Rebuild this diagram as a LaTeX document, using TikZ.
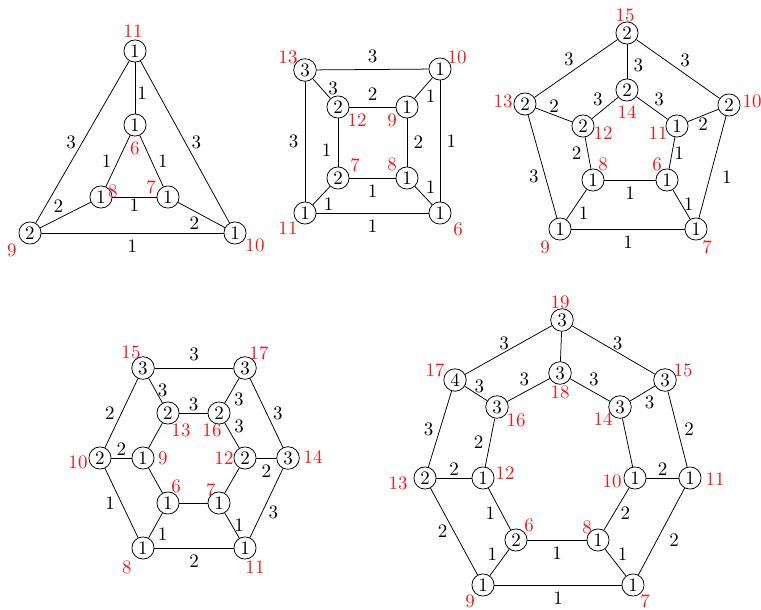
\documentclass[tikz,border=0pt]{standalone}
\usepackage{tikz}
\definecolor{TagRed}{RGB}{245,25,25}
\tikzset{
  vtx/.style={circle,draw,inner sep=1.2pt},
  tag/.style={text=TagRed,inner sep=0pt},
  snug/.style={inner sep=1pt},
}
% vertex with its red number set at an offset from it
\newcommand{\vertexat}[5]{%
  \node[vtx] (#1) at (#2) {#3};
  \node[tag] (#1t) at ([shift={(#4)}]#1) {#5};}
\newcommand{\wlink}[4]{%
  \draw (#1) -- node[#3]{#4} (#2);}

\begin{document}
\begin{tikzpicture}[x=0.526pt,y=-0.526pt]
  \useasboundingbox (0,0) rectangle (761,610);
  % triangle
  \vertexat{a11}{135,51}{1}{-2,-20}{11}
  \vertexat{a6}{135,125}{1}{0,23}{6}
  \vertexat{a8}{101,197}{1}{12,-6}{8}
  \vertexat{a7}{168,197}{1}{-17,-10}{7}
  \vertexat{a9}{30,233}{2}{-18,17}{9}
  \vertexat{a10}{235,233}{1}{20,12}{10}
  \wlink{a11}{a6}{right,snug,pos=0.6}{1}
  \wlink{a11}{a9}{left}{3}
  \wlink{a11}{a10}{right}{3}
  \wlink{a6}{a8}{left}{1}
  \wlink{a6}{a7}{right}{1}
  \wlink{a8}{a7}{below,snug}{1}
  \wlink{a9}{a8}{above left,snug}{2}
  \wlink{a7}{a10}{below left,snug}{2}
  \wlink{a9}{a10}{below}{1}
  % cube
  \vertexat{b13}{305,70}{3}{-17,-13}{13}
  \vertexat{b10}{440,69}{1}{17,-12}{10}
  \vertexat{b12}{338,107}{2}{19,13}{12}
  \vertexat{b9}{407,107}{1}{-15,13}{9}
  \vertexat{b7}{338,178}{2}{17,-13}{7}
  \vertexat{b8}{407,178}{1}{-15,-14}{8}
  \vertexat{b11}{305,213}{1}{-17,15}{11}
  \vertexat{b6}{440,213}{1}{18,16}{6}
  \wlink{b13}{b10}{above}{3}
  \wlink{b13}{b12}{right}{3}
  \wlink{b12}{b9}{above}{2}
  \wlink{b10}{b9}{below right,snug}{1}
  \wlink{b13}{b11}{left}{3}
  \wlink{b12}{b7}{left,pos=0.65}{1}
  \wlink{b9}{b8}{right}{2}
  \wlink{b10}{b6}{right}{1}
  \wlink{b7}{b8}{below}{1}
  \wlink{b7}{b11}{below right,snug}{1}
  \wlink{b8}{b6}{above right,snug}{1}
  \wlink{b11}{b6}{below}{1}
  % pentagonal prism
  \vertexat{c15}{627,33}{2}{-2,-18}{15}
  \vertexat{c13}{525,104}{2}{-22,-3}{13}
  \vertexat{c10}{729,105}{2}{23,-4}{10}
  \vertexat{c14}{627,90}{2}{0,22}{14}
  \vertexat{c12}{583,126}{2}{20,7}{12}
  \vertexat{c11}{677,126}{1}{-19,7}{11}
  \vertexat{c8}{593,180}{1}{10,-16}{8}
  \vertexat{c6}{667,180}{1}{-10,-16}{6}
  \vertexat{c9}{560,229}{1}{-15,18}{9}
  \vertexat{c7}{696,229}{1}{11,18}{7}
  \wlink{c15}{c13}{above left,snug}{3}
  \wlink{c15}{c10}{above right,snug}{3}
  \wlink{c15}{c14}{right,pos=0.6}{3}
  \wlink{c14}{c12}{above left,snug}{3}
  \wlink{c14}{c11}{above right,snug}{3}
  \wlink{c13}{c12}{above,snug}{2}
  \wlink{c11}{c10}{below,snug}{2}
  \wlink{c13}{c9}{left,pos=0.6}{3}
  \wlink{c12}{c8}{left}{2}
  \wlink{c11}{c6}{right,snug}{1}
  \wlink{c10}{c7}{right=3pt,pos=0.6}{1}
  \wlink{c8}{c6}{below}{1}
  \wlink{c8}{c9}{below right,snug}{1}
  \wlink{c6}{c7}{right,snug}{1}
  \wlink{c9}{c7}{below}{1}
  % hexagonal
  \vertexat{d15}{143,368}{3}{-12,-16}{15}
  \vertexat{d17}{245,368}{3}{14,-15}{17}
  \vertexat{d13}{168,413}{2}{13,17}{13}
  \vertexat{d16}{219,413}{2}{-7,17}{16}
  \vertexat{d10}{100,458}{2}{-22,4}{10}
  \vertexat{d9}{143,458}{1}{20,0}{9}
  \vertexat{d12}{245,458}{2}{-21,0}{12}
  \vertexat{d14}{288,458}{3}{25,-1}{14}
  \vertexat{d6}{168,503}{1}{8,-17}{6}
  \vertexat{d7}{219,503}{1}{-8,-13}{7}
  \vertexat{d8}{143,548}{1}{-16,19}{8}
  \vertexat{d11}{245,548}{1}{10,19}{11}
  \wlink{d15}{d17}{above}{3}
  \wlink{d15}{d13}{right,snug}{3}
  \wlink{d17}{d16}{below right,snug}{3}
  \wlink{d13}{d16}{above,snug}{3}
  \wlink{d15}{d10}{left}{2}
  \wlink{d17}{d14}{right}{3}
  \wlink{d16}{d12}{above right,snug}{3}
  \wlink{d10}{d9}{above,snug}{2}
  \wlink{d12}{d14}{below}{2}
  \wlink{d10}{d8}{left}{1}
  \wlink{d6}{d8}{below right,snug}{1}
  \wlink{d7}{d11}{right,snug}{1}
  \wlink{d14}{d11}{below right,snug}{3}
  \wlink{d8}{d11}{below}{2}
  \draw (d9) -- (d13);
  \draw (d9) -- (d6);
  \draw (d6) -- (d7);
  \draw (d7) -- (d12);
  % heptagonal
  \vertexat{e19}{562,320}{3}{-2,-18}{19}
  \vertexat{e17}{455,380}{4}{-20,-10}{17}
  \vertexat{e15}{665,380}{3}{18,-10}{15}
  \vertexat{e18}{560,373}{3}{0,19}{18}
  \vertexat{e16}{497,407}{3}{19,13}{16}
  \vertexat{e14}{620,407}{3}{-17,12}{14}
  \vertexat{e13}{425,478}{2}{-27,5}{13}
  \vertexat{e12}{483,478}{1}{22,-5}{12}
  \vertexat{e10}{635,478}{1}{-23,3}{10}
  \vertexat{e11}{690,478}{1}{25,1}{11}
  \vertexat{e6}{516,540}{2}{13,-15}{6}
  \vertexat{e8}{598,540}{1}{-11,-13}{8}
  \vertexat{e9}{483,585}{1}{-13,16}{9}
  \vertexat{e7}{633,585}{1}{12,16}{7}
  \wlink{e19}{e17}{above,snug,pos=0.55}{3}
  \wlink{e19}{e15}{above,snug,pos=0.55}{3}
  \wlink{e17}{e16}{above,snug,pos=0.65}{3}
  \wlink{e18}{e16}{above,pos=0.6}{3}
  \wlink{e18}{e14}{above,pos=0.6}{3}
  \wlink{e15}{e14}{below right,snug}{3}
  \wlink{e17}{e13}{left}{3}
  \wlink{e16}{e12}{left}{2}
  \wlink{e15}{e11}{right}{2}
  \wlink{e13}{e12}{above,snug}{2}
  \wlink{e10}{e11}{above,snug}{2}
  \wlink{e12}{e6}{left,pos=0.6}{1}
  \wlink{e10}{e8}{right,pos=0.6}{2}
  \wlink{e13}{e9}{left}{2}
  \wlink{e11}{e7}{right=3pt,pos=0.6}{2}
  \wlink{e6}{e8}{below}{1}
  \wlink{e6}{e9}{above left,snug}{1}
  \wlink{e8}{e7}{above right,snug}{1}
  \wlink{e9}{e7}{below}{1}
  \draw (e19) -- (e18);
  \draw (e14) -- (e10);
\end{tikzpicture}
\end{document}
